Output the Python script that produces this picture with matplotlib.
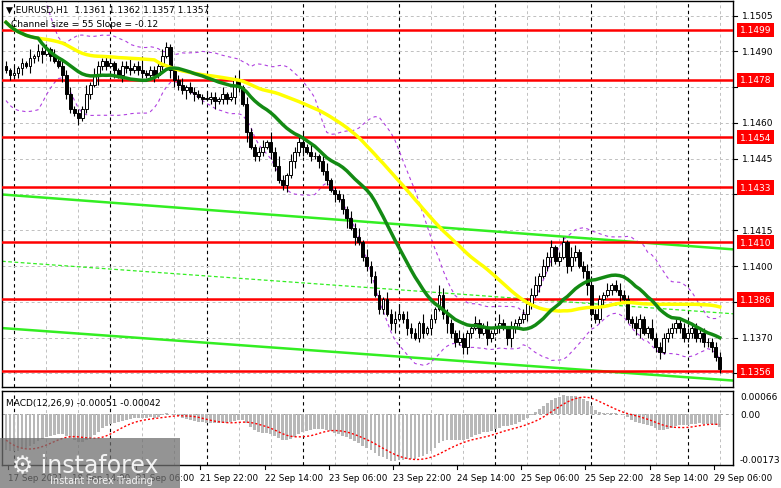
import numpy as np
import pandas as pd
import matplotlib
matplotlib.use("Agg")
import matplotlib.pyplot as plt
from matplotlib.patches import Rectangle

# closes in pips above 1.1300, plus a few bars before the window
warmup = [236, 230, 222, 214, 208, 200, 196, 192, 190, 188, 186, 184]
closes_pips = [
    182, 180, 181, 183, 185, 184, 187, 188, 190, 189,
    191, 188, 186, 184, 180, 172, 166, 164,
    162, 166, 172, 176, 180, 184, 186, 184,
    185, 182, 180, 184, 183, 182, 184, 182,
    181, 180, 182, 180, 184, 188, 192, 182,
    178, 176, 174, 175, 173, 172, 171, 170,
    170, 171, 169, 170, 172, 170, 171, 178,
    175, 168, 156, 150, 146, 148, 150, 152,
    148, 142, 136, 134, 138, 144, 148, 152,
    150, 148, 146, 146, 144, 140, 136, 132,
    130, 128, 124, 120, 116, 112, 110, 104,
    100, 96, 88, 82, 86, 80, 76, 78,
    80, 78, 74, 72, 70, 76, 72, 74,
    78, 82, 88, 80, 76, 72, 68, 70,
    66, 72, 74, 76, 72, 74, 70, 72,
    74, 76, 74, 70, 74, 76, 78, 80,
    84, 88, 92, 96, 100, 104, 108, 102,
    104, 110, 100, 104, 106, 100, 98, 92,
    80, 78, 86, 88, 90, 92, 90, 88,
    86, 78, 76, 74, 78, 72, 74, 70,
    66, 64, 70, 72, 74, 76, 74, 70,
    72, 74, 70, 72, 68, 68, 66, 62, 57,
]
wick_up = "213121413221312231214132123112241261221321123122213221312241321231424213224132123112213241322213234132214121432213211322312421321223413231221431234221312322132114"
wick_dn = "121231322412113221312214221313221221231213322413121231221321412221321231324121322131241312231221341232122132124221332121321213421232131241213221341223121312234121231"

levels = [1.1499, 1.1478, 1.1454, 1.1433, 1.1410, 1.1386, 1.1356]
price_ticks = [1.1505, 1.1490, 1.1475, 1.1460, 1.1445, 1.1430, 1.1415, 1.1400, 1.1385, 1.1370, 1.1355]
upper_channel = [1.1430, 1.1407]
middle_channel = [1.1402, 1.1380]
lower_channel = [1.1374, 1.1352]
time_labels = ["17 Sep 2021", "18 Sep 14:00", "21 Sep 06:00", "21 Sep 22:00", "22 Sep 14:00",
               "23 Sep 06:00", "23 Sep 22:00", "24 Sep 14:00", "25 Sep 06:00", "25 Sep 22:00",
               "28 Sep 14:00", "29 Sep 06:00"]

n = len(closes_pips)
allc = pd.Series([1.13 + v * 1e-4 for v in warmup + closes_pips])
nw = len(warmup)
close = allc.values[nw:]
opn = allc.shift(1).values[nw:]
up = np.array([int(c) for c in wick_up[:n]] + [2] * max(0, n - len(wick_up))) * 1e-4
dn = np.array([int(c) for c in wick_dn[:n]] + [2] * max(0, n - len(wick_dn))) * 1e-4
high = np.maximum(opn, close) + up
low = np.minimum(opn, close) - dn

ma_slow = allc.rolling(50, min_periods=1).mean().values[nw:]
ma_fast = allc.rolling(21, min_periods=1).mean().values[nw:]
sd = allc.rolling(21, min_periods=2).std().bfill().values[nw:]
bb_up = ma_fast + 1.8 * sd
bb_dn = ma_fast - 1.8 * sd
macd = (allc.ewm(span=12, adjust=False).mean() - allc.ewm(span=26, adjust=False).mean())
signal = macd.rolling(9, min_periods=1).mean()
macd = macd.values[nw:]
signal = signal.values[nw:]

W, H = 781, 489
fig = plt.figure(figsize=(W / 100, H / 100), dpi=100)
fig.patch.set_facecolor("white")
left, right = 2 / W, 733 / W
ax = fig.add_axes([left, 1 - 388 / H, right - left, 386 / H])
mx = fig.add_axes([left, 1 - 466 / H, right - left, 74 / H])

xs = np.arange(n)
xlim = (-1, 181.3)
for a in (ax, mx):
    a.set_xlim(*xlim)
    for k in range(0, 23):
        b = 2 + 8 * k
        if k % 3 == 0:
            a.axvline(b, color="black", ls=(0, (3, 3)), lw=0.8, zorder=0)
        else:
            a.axvline(b, color="#c0c0c0", ls=(0, (3, 3)), lw=0.7, zorder=0)
    a.set_xticks([])
    a.set_yticks([])
    for s in a.spines.values():
        s.set_color("black")
        s.set_linewidth(1)

ymin, ymax = 1.13493, 1.15111
ax.set_ylim(ymin, ymax)
for p in price_ticks:
    ax.axhline(p, color="#c0c0c0", ls=(0, (3, 3)), lw=0.7, zorder=0)

# channel
ax.plot(xlim, upper_channel, color="#33ee22", lw=1.8, zorder=2)
ax.plot(xlim, middle_channel, color="#33ee22", lw=0.9, ls=(0, (3, 2)), zorder=2)
ax.plot(xlim, lower_channel, color="#33ee22", lw=1.8, zorder=2)

for lv in levels:
    ax.axhline(lv, color="#ff0000", lw=1.8, zorder=3)

ax.plot(xs, bb_up, color="#b040e0", lw=0.8, ls=(0, (3, 3)), zorder=2)
ax.plot(xs, bb_dn, color="#b040e0", lw=0.8, ls=(0, (3, 3)), zorder=2)

# candles
for i in range(n):
    ax.vlines(i, low[i], high[i], color="black", lw=0.8, zorder=4)
    bot = min(opn[i], close[i])
    h = max(abs(close[i] - opn[i]), 0.00003)
    fc = "white" if close[i] > opn[i] else "black"
    ax.add_patch(Rectangle((i - 0.35, bot), 0.7, h, facecolor=fc, edgecolor="black", lw=0.7, zorder=5))

ax.plot(xs, ma_slow, color="#ffff00", lw=2.5, zorder=6)
ax.plot(xs, ma_fast, color="#138a13", lw=2.5, zorder=6)

def py(p):
    return 1 - (2 + (ymax - p) / (ymax - ymin) * 386) / H

for p in price_ticks:
    fig.lines.append(plt.Line2D([733 / W, 737 / W], [py(p), py(p)], color="black", lw=0.8, transform=fig.transFigure))
    if min(abs(p - lv) for lv in levels) < 0.00045:
        continue  # hidden behind the red level box
    fig.text(742 / W, py(p), f"{p:.4f}", fontsize=6.5, va="center", ha="left", zorder=1)
for lv in levels:
    fig.text(740 / W, py(lv), f"{lv:.4f}", fontsize=6.5, va="center", ha="left", color="white", zorder=5,
             bbox=dict(boxstyle="square,pad=0.3", fc="#ff0000", ec="none"))

ax.text(0.006, 0.99, "\u25bc EURUSD,H1  1.1361 1.1362 1.1357 1.1357", transform=ax.transAxes,
        fontsize=6.5, va="top", ha="left", zorder=10)
ax.text(0.012, 0.953, "Channel size = 55 Slope = -0.12", transform=ax.transAxes,
        fontsize=6.5, va="top", ha="left", zorder=10)

# MACD
mmin, mmax = -0.00195, 0.00088
mx.set_ylim(mmin, mmax)
mx.axhline(0, color="#a0a0a0", ls=(0, (3, 3)), lw=0.7, zorder=0)
mx.bar(xs, macd, width=0.7, color="#b8b8b8", zorder=2)
mx.plot(xs, signal, color="#ff0000", lw=1, ls=(0, (1.5, 1.5)), zorder=3)
mx.text(0.006, 0.9, "MACD(12,26,9) -0.00051 -0.00042", transform=mx.transAxes, fontsize=6.5, va="top")
def my(v):
    return 1 - (392 + (mmax - v) / (mmax - mmin) * 74) / H
for v, t in [(0.00066, "0.00066"), (0.0, "0.00"), (-0.00173, "-0.00173")]:
    fig.text(740 / W, my(v), t, fontsize=6.5, va="center", ha="left")

for k, t in enumerate(time_labels):
    xb = 16 * k + 0.5
    xf = left + (xb - xlim[0]) / (xlim[1] - xlim[0]) * (right - left)
    fig.text(xf, 1 - 479 / H, t, fontsize=6.3, va="center", ha="left")
    fig.lines.append(plt.Line2D([xf, xf], [1 - 466 / H, 1 - 470 / H], color="black", lw=0.8, transform=fig.transFigure))

# watermark
fig.patches.append(Rectangle((0, 0), 180 / W, 50 / H, transform=fig.transFigure,
                             facecolor="#707070", alpha=0.75, edgecolor="none", zorder=20))
fig.text(12 / W, 24 / H, "\u2699 instaforex", fontsize=17, color="white", alpha=0.9, zorder=21, va="center")
fig.text(50 / W, 8 / H, "Instant Forex Trading", fontsize=7, color="white", alpha=0.9, zorder=21, va="center")

fig.savefig("out.png", dpi=100)
